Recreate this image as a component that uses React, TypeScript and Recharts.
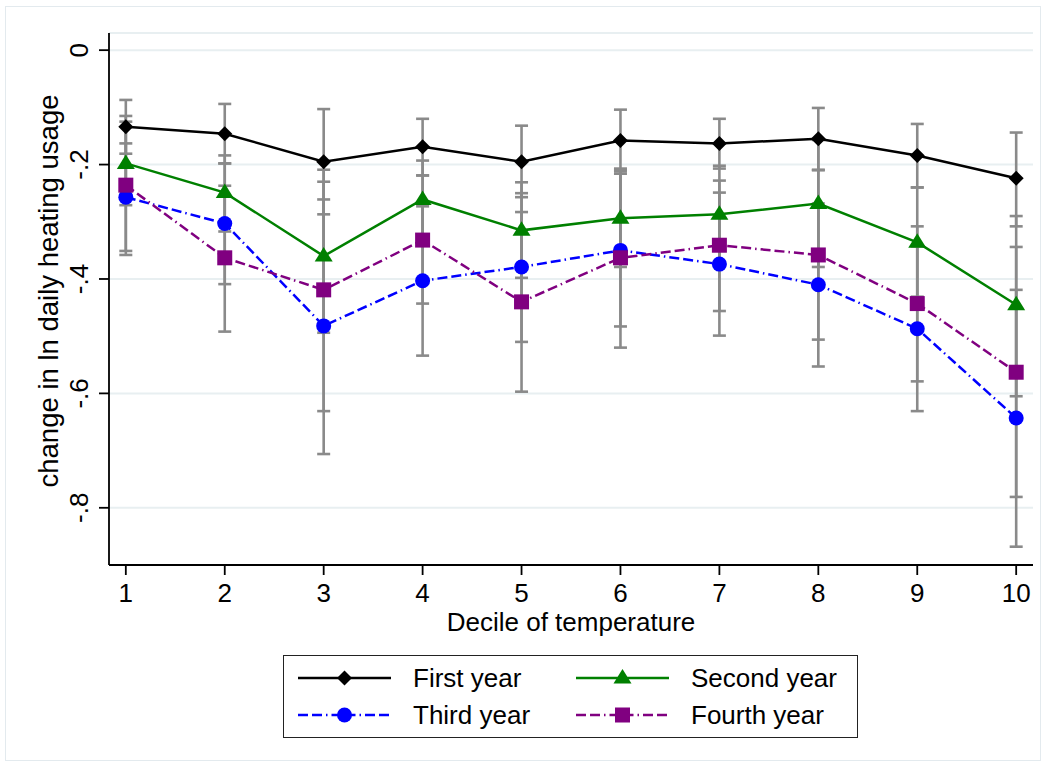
import React from "react";
import { LineChart, Line, XAxis, YAxis, CartesianGrid, ErrorBar } from "recharts";

const deciles = [1, 2, 3, 4, 5, 6, 7, 8, 9, 10];
const firstYear = [-0.134, -0.146, -0.195, -0.169, -0.195, -0.158, -0.163, -0.155, -0.184, -0.224];
const firstLo = [-0.181, -0.198, -0.287, -0.219, -0.257, -0.212, -0.207, -0.209, -0.240, -0.308];
const firstHi = [-0.087, -0.094, -0.103, -0.120, -0.132, -0.104, -0.120, -0.101, -0.129, -0.144];
const secondYear = [-0.198, -0.249, -0.360, -0.261, -0.315, -0.294, -0.287, -0.268, -0.336, -0.445];
const secondLo = [-0.271, -0.317, -0.494, -0.332, -0.398, -0.379, -0.372, -0.379, -0.431, -0.605];
const secondHi = [-0.125, -0.184, -0.230, -0.193, -0.231, -0.209, -0.202, -0.157, -0.240, -0.290];
const thirdYear = [-0.257, -0.303, -0.482, -0.403, -0.379, -0.350, -0.374, -0.410, -0.487, -0.643];
const thirdLo = [-0.351, -0.409, -0.706, -0.534, -0.510, -0.483, -0.499, -0.553, -0.631, -0.868];
const thirdHi = [-0.163, -0.198, -0.261, -0.273, -0.250, -0.216, -0.249, -0.268, -0.343, -0.419];
const fourthYear = [-0.236, -0.363, -0.419, -0.332, -0.440, -0.363, -0.341, -0.358, -0.443, -0.563];
const fourthLo = [-0.358, -0.492, -0.631, -0.443, -0.597, -0.520, -0.456, -0.506, -0.579, -0.781];
const fourthHi = [-0.115, -0.237, -0.209, -0.219, -0.283, -0.207, -0.228, -0.210, -0.308, -0.344];
const yTicks = [0, -0.2, -0.4, -0.6, -0.8];
const xTicks = [1, 2, 3, 4, 5, 6, 7, 8, 9, 10];
const seriesNames = ["First year", "Second year", "Third year", "Fourth year"];
const xTitle = "Decile of temperature";
const yTitle = "change in ln daily heating usage";

const FONT = "'Liberation Sans', Arial, Helvetica, sans-serif";
const GRAY = "#8a8a8a";
const DASH = "10 4 10 4 1.5 4";

const err = (c: number, lo: number, hi: number) => [c - lo, hi - c];

const data = deciles.map((d, i) => ({
  x: d,
  first: firstYear[i],
  firstErr: err(firstYear[i], firstLo[i], firstHi[i]),
  second: secondYear[i],
  secondErr: err(secondYear[i], secondLo[i], secondHi[i]),
  third: thirdYear[i],
  thirdErr: err(thirdYear[i], thirdLo[i], thirdHi[i]),
  fourth: fourthYear[i],
  fourthErr: err(fourthYear[i], fourthLo[i], fourthHi[i]),
}));

const Diamond = ({ cx, cy }: any) => (
  <polygon points={`${cx},${cy - 7.5} ${cx + 7.5},${cy} ${cx},${cy + 7.5} ${cx - 7.5},${cy}`} fill="#000000" />
);
const Triangle = ({ cx, cy }: any) => (
  <polygon points={`${cx},${cy - 9} ${cx + 9},${cy + 5.5} ${cx - 9},${cy + 5.5}`} fill="#008000" />
);
const Circ = ({ cx, cy }: any) => <circle cx={cx} cy={cy} r={7.5} fill="#0000ff" />;
const Sq = ({ cx, cy }: any) => <rect x={cx - 7.5} y={cy - 7.5} width={15} height={15} fill="#800080" />;

const fmtY = (v: number) => (v === 0 ? "0" : "-" + String(Math.abs(v)).replace(/^0/, ""));

const YTick = (props: any) => {
  const { x, y, payload } = props;
  return (
    <text
      x={x}
      y={y}
      transform={`rotate(-90, ${x}, ${y})`}
      textAnchor="middle"
      fontSize={26}
      fontFamily={FONT}
      fill="#000"
    >
      {fmtY(payload.value)}
    </text>
  );
};

const series = [
  { key: "first", name: seriesNames[0], color: "#000000", dash: undefined, Marker: Diamond },
  { key: "second", name: seriesNames[1], color: "#008000", dash: undefined, Marker: Triangle },
  { key: "third", name: seriesNames[2], color: "#0000ff", dash: DASH, Marker: Circ },
  { key: "fourth", name: seriesNames[3], color: "#800080", dash: DASH, Marker: Sq },
];

const LegendBox = () => {
  const items = [
    { s: series[0], lx: 14, tx: 129, y: 22 },
    { s: series[1], lx: 292, tx: 407, y: 22 },
    { s: series[2], lx: 14, tx: 129, y: 59 },
    { s: series[3], lx: 292, tx: 407, y: 59 },
  ];
  return (
    <div
      style={{
        position: "absolute",
        left: 283,
        top: 655,
        width: 575,
        height: 83,
        border: "1.5px solid #222",
        boxSizing: "border-box",
        background: "#fff",
      }}
    >
      <svg width={572} height={80} style={{ position: "absolute", left: 0, top: 0 }}>
        {items.map(({ s, lx, tx, y }) => {
          const M = s.Marker;
          return (
            <g key={s.key}>
              <line x1={lx} x2={lx + 93} y1={y} y2={y} stroke={s.color} strokeWidth={2.5} strokeDasharray={s.dash} />
              <M cx={lx + 46.5} cy={y} />
              <text x={tx} y={y + 8.5} fontSize={26} fontFamily={FONT} fill="#000">
                {s.name}
              </text>
            </g>
          );
        })}
      </svg>
    </div>
  );
};

export default function App() {
  return (
    <div style={{ position: "relative", width: 1047, height: 770, background: "#fff" }}>
      <style>{"body{margin:0;}"}</style>
      <div
        style={{
          position: "absolute",
          left: 5,
          top: 6,
          width: 1036,
          height: 755,
          border: "1.5px solid #e3eaee",
          boxSizing: "border-box",
        }}
      />
      <LineChart
        width={1047}
        height={770}
        data={data}
        margin={{ top: 33, right: 14, left: 9, bottom: 135 }}
        style={{ position: "absolute", left: 0, top: 0 }}
      >
        <CartesianGrid horizontal={true} vertical={false} stroke="#e8eff1" strokeWidth={2} />
        <XAxis
          dataKey="x"
          type="number"
          domain={[0.83, 10.17]}
          allowDataOverflow
          ticks={xTicks}
          interval={0}
          height={70}
          tickSize={10}
          tickMargin={9}
          stroke="#000"
          strokeWidth={1.8}
          tick={{ fontSize: 26, fill: "#000", fontFamily: FONT }}
          tickLine={{ stroke: "#000", strokeWidth: 1.8 }}
          label={{
            content: (p: any) => {
              const vb = p.viewBox;
              return (
                <text x={vb.x + vb.width / 2} y={631} textAnchor="middle" fontSize={26} fontFamily={FONT} fill="#000">
                  {xTitle}
                </text>
              );
            },
          }}
        />
        <YAxis
          type="number"
          domain={[-0.9, 0.03]}
          allowDataOverflow
          ticks={yTicks}
          interval={0}
          width={100}
          tickSize={10}
          tickMargin={11}
          stroke="#000"
          strokeWidth={1.8}
          tick={<YTick />}
          tickLine={{ stroke: "#000", strokeWidth: 1.8 }}
          label={{
            content: () => (
              <text
                x={58}
                y={291}
                transform="rotate(-90, 58, 291)"
                textAnchor="middle"
                fontSize={27.5}
                fontFamily={FONT}
                fill="#000"
              >
                {yTitle}
              </text>
            ),
          }}
        />
        {series.map((s) => (
          <Line
            key={s.key + "-err"}
            dataKey={s.key}
            stroke="none"
            dot={false}
            activeDot={false}
            legendType="none"
            isAnimationActive={false}
          >
            <ErrorBar
              dataKey={s.key + "Err"}
              direction="y"
              width={6.5}
              stroke={GRAY}
              strokeWidth={2.6}
              isAnimationActive={false}
            />
          </Line>
        ))}
        {series.map((s) => {
          const M = s.Marker;
          return (
            <Line
              key={s.key}
              dataKey={s.key}
              name={s.name}
              stroke={s.color}
              strokeWidth={2.5}
              strokeDasharray={s.dash}
              dot={(p: any) => <M key={s.key + p.index} cx={p.cx} cy={p.cy} />}
              activeDot={false}
              isAnimationActive={false}
            />
          );
        })}
      </LineChart>
      <LegendBox />
    </div>
  );
}
